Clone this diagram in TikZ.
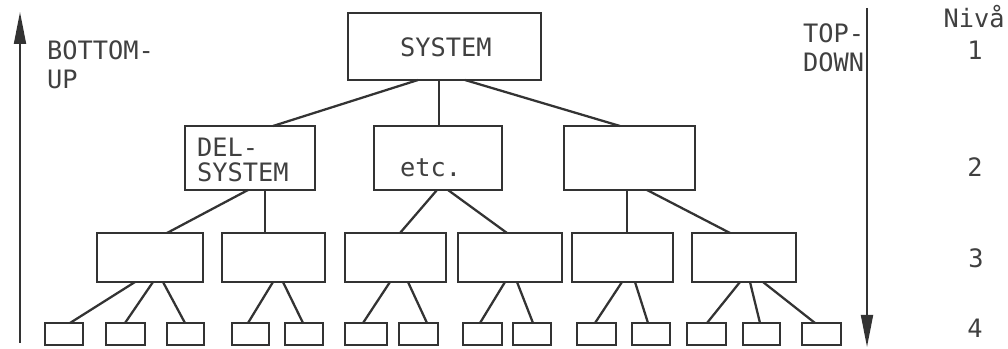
\documentclass[tikz,border=0pt]{standalone}
\usepackage{fontspec}
\newfontfamily\mono{DejaVu Sans Mono}
\usetikzlibrary{arrows.meta}
\definecolor{ink}{HTML}{333333}
\definecolor{txt}{HTML}{404040}
\begin{document}
\begin{tikzpicture}[x=0.75pt,y=-0.75pt,
  box/.style={draw=ink,line width=1.9pt,inner sep=0pt,outer sep=0pt,rectangle},
  link/.style={draw=ink,line width=1.7pt},
  lbl/.style={inner sep=0pt,outer sep=0pt,text=txt,font=\mono\fontsize{19}{22}\selectfont},
  axis/.style={draw=ink,line width=1.4pt,-{Triangle[length=24pt,width=9pt]}}]
\useasboundingbox (0,0) rectangle (1008,349);
% level 1
\node[box,minimum width=144.75pt,minimum height=50.25pt] (sys) at (444.5,46.5) {};
% level 2
\node[box,minimum width=97.5pt,minimum height=48pt] (del) at (250,158) {};
\node[box,minimum width=96pt,minimum height=48pt] (etc) at (438,158) {};
\node[box,minimum width=98.25pt,minimum height=48pt] (m3) at (629.5,158) {};
% level 3
\node[box,minimum width=79.5pt,minimum height=36.75pt] (a) at (150,257.5) {};
\node[box,minimum width=77.25pt,minimum height=36.75pt] (b) at (273.5,257.5) {};
\node[box,minimum width=75.75pt,minimum height=36.75pt] (c) at (395.5,257.5) {};
\node[box,minimum width=78pt,minimum height=36.75pt] (d) at (510,257.5) {};
\node[box,minimum width=75.75pt,minimum height=36.75pt] (e) at (622.5,257.5) {};
\node[box,minimum width=78pt,minimum height=36.75pt] (f) at (744,257.5) {};
% level 4
\foreach \n/\xa/\xb in {1/45/83,2/106/145,3/167/204,4/232/269,5/285/323,6/345/387,7/399/438,8/463/502,9/513/551,10/577/616,11/632/670,12/687/726,13/743/780,14/802/841}{
  \pgfmathsetmacro\cx{(\xa+\xb)/2}
  \pgfmathsetmacro\w{(\xb-\xa)*0.75}
  \node[box,minimum width=\w pt,minimum height=16.5pt] (s\n) at (\cx,334) {};
}
% texts in boxes
\node[lbl,anchor=base] (tsys) at (446,57) {SYSTEM};
\node[lbl,anchor=base west] (tdel1) at (197,157) {DEL-};
\node[lbl,anchor=base west] (tdel2) at (197,182) {SYSTEM};
\node[lbl,anchor=base west] (tetc) at (400,177) {etc.};
% connectors level 1 -> 2
\draw[link] (sys.south -| 418,0) -- (del.north -| 273,0);
\draw[link] (sys.south -| 439,0) -- (etc.north -| 439,0);
\draw[link] (sys.south -| 465,0) -- (m3.north -| 620,0);
% level 2 -> 3
\draw[link] (del.south -| 248,0) -- (a.north -| 167,0);
\draw[link] (del.south -| 265,0) -- (b.north -| 265,0);
\draw[link] (etc.south -| 437,0) -- (c.north -| 400,0);
\draw[link] (etc.south -| 448,0) -- (d.north -| 507,0);
\draw[link] (m3.south -| 627,0) -- (e.north -| 627,0);
\draw[link] (m3.south -| 647,0) -- (f.north -| 730,0);
% level 3 -> 4
\draw[link] (a.south -| 135,0) -- (s1.north -| 70,0);
\draw[link] (a.south -| 153,0) -- (s2.north -| 125,0);
\draw[link] (a.south -| 163,0) -- (s3.north -| 185,0);
\draw[link] (b.south -| 273,0) -- (s4.north -| 248,0);
\draw[link] (b.south -| 283,0) -- (s5.north -| 303,0);
\draw[link] (c.south -| 390,0) -- (s6.north -| 363,0);
\draw[link] (c.south -| 408,0) -- (s7.north -| 427,0);
\draw[link] (d.south -| 505,0) -- (s8.north -| 480,0);
\draw[link] (d.south -| 517,0) -- (s9.north -| 533,0);
\draw[link] (e.south -| 622,0) -- (s10.north -| 595,0);
\draw[link] (e.south -| 635,0) -- (s11.north -| 648,0);
\draw[link] (f.south -| 740,0) -- (s12.north -| 707,0);
\draw[link] (f.south -| 750,0) -- (s13.north -| 760,0);
\draw[link] (f.south -| 763,0) -- (s14.north -| 815,0);
% axes
\coordinate (lb) at (20,343);
\coordinate (lt) at (20,12);
\draw[axis] (lb) -- (lt);
\coordinate (rt) at (867,8);
\coordinate (rb) at (867,347);
\draw[axis] (rt) -- (rb);
\node[lbl,anchor=base west] (bu1) at (47,60) {BOTTOM-};
\node[lbl,anchor=base west] (bu2) at (47,89) {UP};
\node[lbl,anchor=base west] (td1) at (803,43) {TOP-};
\node[lbl,anchor=base west] (td2) at (803,72) {DOWN};
% levels
\node[lbl,anchor=base] (niv) at (974,28) {Nivå};
\node[lbl,anchor=base] (n1) at (975,60) {1};
\node[lbl,anchor=base] (n2) at (975,177) {2};
\node[lbl,anchor=base] (n3) at (976,268) {3};
\node[lbl,anchor=base] (n4) at (975,338) {4};
\end{tikzpicture}
\end{document}
